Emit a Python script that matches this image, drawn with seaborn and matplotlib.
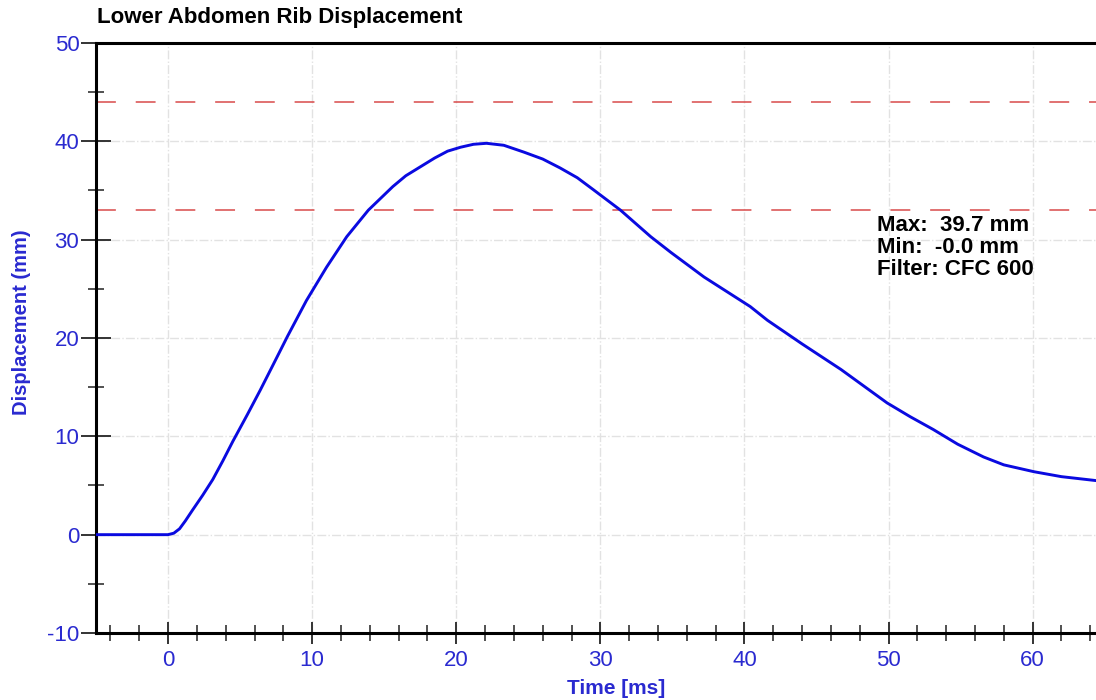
import numpy as np
import pandas as pd
import matplotlib
matplotlib.use('Agg')
import matplotlib.pyplot as plt
from matplotlib.ticker import MultipleLocator
import seaborn as sns

# ------------------------------
# Data
# ------------------------------
time_ms = [-5.0, -2.0, 0.0, 0.4, 0.8, 1.2, 1.7, 2.4, 3.1, 3.8, 4.5, 5.5, 6.4, 7.3,
           8.3, 9.6, 11.0, 12.4, 13.9, 15.6, 16.5, 17.5, 18.5, 19.4, 20.3, 21.2,
           22.1, 23.3, 24.7, 26.0, 27.2, 28.4, 29.5, 31.4, 33.5, 34.9, 37.2, 38.8,
           40.4, 41.6, 44.0, 46.7, 48.3, 49.9, 51.5, 53.1, 54.8, 56.6, 58.0, 60.1,
           62.0, 64.4]
disp_mm = [0.0, 0.0, 0.0, 0.15, 0.6, 1.4, 2.5, 4.0, 5.6, 7.5, 9.5, 12.2, 14.7, 17.3,
           20.2, 23.8, 27.2, 30.3, 33.0, 35.4, 36.5, 37.4, 38.3, 39.0, 39.4, 39.7,
           39.8, 39.6, 38.9, 38.2, 37.3, 36.3, 35.1, 33.0, 30.3, 28.7, 26.2, 24.7,
           23.2, 21.8, 19.4, 16.8, 15.1, 13.4, 12.0, 10.7, 9.2, 7.9, 7.1, 6.4,
           5.9, 5.5]
limit_levels = [44, 33]
stats_lines = ['Max:  39.7 mm', 'Min:  -0.0 mm', 'Filter: CFC 600']

df = pd.DataFrame({'Time': time_ms, 'Disp': disp_mm})

blue_txt = '#2a2ad0'

sns.set_theme(style='white')
plt.rcParams['font.family'] = ['Liberation Sans', 'DejaVu Sans']
plt.rcParams['axes.unicode_minus'] = False

fig = plt.figure(figsize=(10.96, 7.0), dpi=100)
ax = fig.add_axes([96 / 1096, 1 - 633 / 700, 1 - 96 / 1096, (633 - 43) / 700])

# сетка под данными
ax.set_axisbelow(True)
ax.grid(True, which='major', color='#e2e2e2', linestyle='-.', linewidth=1.0)

for lvl in limit_levels:
    ax.axhline(lvl, color='#d84a4a', linestyle=(0, (13, 13)), linewidth=1.1, zorder=2)

sns.lineplot(data=df, x='Time', y='Disp', ax=ax, color='#0a0ae0', linewidth=2.1,
             zorder=3, legend=False)

ax.set_xlim(-5, 64.4)
ax.set_ylim(-10, 50)
ax.xaxis.set_major_locator(MultipleLocator(10))
ax.xaxis.set_minor_locator(MultipleLocator(2))
ax.yaxis.set_major_locator(MultipleLocator(10))
ax.yaxis.set_minor_locator(MultipleLocator(5))

ax.tick_params(axis='both', which='both', bottom=True, left=True, top=False, right=False)
ax.tick_params(axis='both', which='major', labelsize=16, labelcolor=blue_txt,
               color='#333333', width=1.4, direction='inout')
ax.tick_params(axis='x', which='major', length=16, pad=4)
ax.tick_params(axis='y', which='major', length=22, pad=1)
ax.tick_params(axis='both', which='minor', color='#333333', width=1.2,
               direction='inout', length=11)

for side in ['left', 'bottom', 'top']:
    ax.spines[side].set_color('black')
    ax.spines[side].set_linewidth(2.2)
ax.spines['right'].set_visible(False)

ax.set_xlabel('Time [ms]', fontsize=15, fontweight='bold', color=blue_txt)
ax.set_ylabel('Displacement (mm)', fontsize=14.5, fontweight='bold', color=blue_txt)
ax.xaxis.set_label_coords((616 - 96) / 1000, -(688 - 633) / 590)
ax.yaxis.set_label_coords(-(96 - 22) / 1000, (633 - 322) / 590)
ax.xaxis.label.set_va('center')
ax.yaxis.label.set_va('center')

ax.text(49.2, 32.5, '\n'.join(stats_lines), fontsize=16, fontweight='bold',
        color='black', va='top', ha='left', linespacing=1.06, zorder=4)

fig.text(97 / 1096, 1 - 17 / 700, 'Lower Abdomen Rib Displacement', fontsize=16,
         fontweight='bold', color='black', ha='left', va='center')

fig.savefig('out.png', dpi=100)
plt.close(fig)
